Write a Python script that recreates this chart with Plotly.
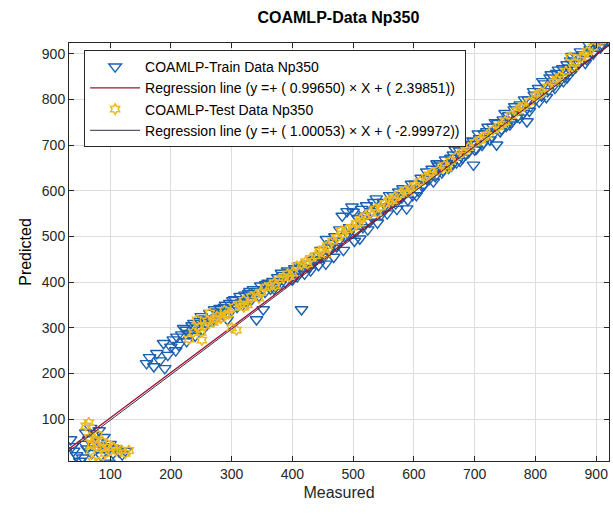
import plotly.graph_objects as go

# ---------------- data ----------------
train_measured = [
    35, 38, 40, 45, 50, 55, 58, 60, 62, 65, 68, 70, 72, 75, 78, 80, 82, 85, 88, 90, 95, 98, 100, 105, 110, 115, 120, 125,
    160, 165, 172, 177, 182, 188, 190, 195, 200, 204, 208, 213, 218, 221, 226, 230, 235, 240, 244, 248, 252, 256,
    260, 264, 268, 272, 276, 281, 285, 290, 293, 297, 300, 305, 309, 314, 318, 322, 326, 330, 333, 336,
    341, 345, 348, 352, 355, 360, 364, 368, 372, 376, 380, 384, 388, 392, 396, 400, 404, 408, 412, 415,
    417, 420, 425, 430, 434, 439, 443, 447, 452, 456, 460, 465, 470, 473, 478, 482, 486, 490, 494, 498,
    500, 504, 508, 511, 514, 518, 522, 527, 530, 534, 538, 542, 546, 550, 555, 560, 566, 570, 575, 580,
    585, 588, 593, 598, 602, 607, 612, 616, 621, 625, 630, 635, 640, 643, 648, 652, 657, 661, 665, 670,
    675, 680, 684, 690, 694, 698, 698, 703, 708, 712, 716, 720, 725, 730, 736, 738, 742, 747, 752, 756,
    760, 765, 770, 775, 780, 786, 788, 792, 797, 800, 805, 810, 815, 820, 824, 830, 835, 840, 845, 848,
    852, 852, 858, 862, 868, 872, 879, 884, 890, 895, 900, 905, 907, 912, 918, 920,
    210, 225, 238, 250, 262, 275, 288, 302, 316, 328, 342, 356, 370, 382, 398, 410, 428, 444,
    455, 462, 468, 476, 484, 492, 502, 516, 524, 532, 540, 548, 556, 564, 572, 582, 590, 596, 604, 614,
    622, 632, 638, 646, 654, 662, 668, 676, 686, 692, 700, 706, 714, 722, 728, 734, 744, 750, 758, 766,
    774, 782, 790, 798, 806, 812, 818, 826, 832, 838, 846, 854, 860, 866, 874, 882, 888, 896, 904, 910,
]
train_predicted = [
    55, 40, 30, 20, 8, 15, 45, 70, 35, 55, 80, 25, 45, 65, 35, 50, 75, 20, 40, 60, 30, 4, 45, 25, 35, 28, 22, 30,
    222, 235, 215, 244, 228, 266, 211, 240, 258, 274, 250, 262, 285, 299, 270, 288, 305, 282, 300, 314, 295, 320,
    308, 332, 315, 340, 322, 343, 330, 350, 318, 354, 338, 362, 345, 369, 350, 372, 358, 380, 362, 384,
    318, 370, 392, 340, 378, 398, 385, 402, 390, 410, 395, 415, 400, 425, 421, 405, 430, 412, 436, 340,
    432, 418, 440, 425, 448, 450, 437, 470, 455, 494, 468, 485, 500, 478, 515, 545, 500, 555, 520, 565,
    554, 510, 540, 495, 560, 545, 568, 532, 555, 575, 583, 560, 548, 575, 565, 590, 590, 572, 598, 585,
    600, 561, 605, 590, 615, 600, 628, 612, 642, 625, 648, 632, 655, 660, 645, 668, 650, 672, 679, 662,
    688, 672, 695, 685, 702, 657, 708, 692, 715, 700, 725, 730, 712, 740, 701, 748, 730, 756, 742, 765,
    750, 778, 762, 789, 770, 752, 800, 785, 818, 800, 825, 808, 835, 818, 848, 830, 858, 840, 868, 850,
    877, 848, 885, 865, 895, 880, 899, 888, 910, 900, 920, 915, 914, 935, 945, 930,
    280, 295, 310, 325, 318, 335, 345, 360, 355, 375, 380, 395, 385, 420, 412, 428, 432, 458,
    440, 475, 455, 490, 470, 505, 490, 520, 515, 540, 530, 560, 550, 575, 560, 605, 580, 615, 590, 610,
    625, 620, 660, 640, 660, 655, 690, 665, 680, 710, 690, 725, 705, 740, 720, 750, 735, 770, 745, 785,
    760, 800, 775, 810, 795, 840, 805, 855, 825, 865, 840, 870, 895, 870, 905, 880, 920, 905, 935, 920,
]

test_measured = [
    60, 65, 66, 68, 70, 72, 75, 78, 80, 82, 85, 88, 92, 95, 100, 105, 110, 118, 125, 131,
    230, 237, 243, 247, 251, 256, 260, 264, 270, 276, 282, 288, 295, 300, 304, 308, 314, 320, 326, 332,
    340, 348, 355, 363, 370, 378, 385, 392, 400, 407, 415, 422, 430, 438, 445, 450, 458, 466, 474, 482,
    490, 498, 505, 512, 520, 528, 536, 545, 552, 560, 568, 576, 585, 594, 602, 610, 620, 630, 640, 650,
    660, 670, 680, 690, 700, 710, 720, 730, 740, 750, 760, 770, 780, 790, 800, 810, 820, 830, 840, 850,
    857, 865, 875, 885, 895, 905, 915,
    250, 275, 290, 320, 345, 372, 395, 425, 455, 480, 510, 540, 565, 590, 625, 655, 685, 715, 745, 775,
    805, 835, 862, 880,
]
test_predicted = [
    85, 92, 60, 30, 45, 8, 55, 40, 65, 5, 35, 50, 25, 45, 30, 38, 30, 32, 25, 31,
    275, 290, 317, 300, 273, 305, 315, 332, 312, 325, 320, 338, 330, 300, 345, 295, 352, 360, 350, 368,
    372, 378, 388, 391, 398, 405, 410, 418, 420, 435, 438, 445, 452, 458, 468, 472, 480, 490, 498, 505,
    515, 520, 528, 538, 545, 552, 560, 565, 572, 580, 585, 592, 600, 605, 612, 620, 630, 640, 645, 655,
    665, 675, 685, 695, 705, 712, 722, 733, 742, 752, 765, 775, 785, 795, 808, 815, 828, 838, 850, 862,
    893, 880, 892, 905, 915, 928, 942,
    290, 318, 328, 345, 365, 392, 412, 440, 462, 512, 530, 552, 578, 596, 635, 650, 690, 718, 745, 782,
    812, 845, 870, 898,
]

train_slope, train_intercept = 0.99650, 2.39851
test_slope, test_intercept = 1.00053, -2.99972
line_x = [32, 921]

x_ticks = [100, 200, 300, 400, 500, 600, 700, 800, 900]
y_ticks = [100, 200, 300, 400, 500, 600, 700, 800, 900]

title_text = "COAMLP-Data Np350"
train_name = "COAMLP-Train Data Np350"
train_line_name = "Regression line (y =+ ( 0.99650) × X + ( 2.39851))"
test_name = "COAMLP-Test Data Np350"
test_line_name = "Regression line (y =+ ( 1.00053) × X + ( -2.99972))"

# ---------------- figure ----------------
fig = go.Figure()

fig.add_trace(go.Scatter(
    x=train_measured, y=train_predicted, mode="markers", name=train_name,
    marker=dict(symbol="triangle-down-open", size=11, color="#1B5FAF",
                line=dict(width=1.4, color="#1B5FAF")),
))
fig.add_trace(go.Scatter(
    x=line_x, y=[train_slope * v + train_intercept for v in line_x], mode="lines",
    name=train_line_name, line=dict(color="#A2142F", width=1.3),
))
fig.add_trace(go.Scatter(
    x=test_measured, y=test_predicted, mode="markers", name=test_name,
    marker=dict(symbol="hexagram-open", size=8, color="#EDB820",
                line=dict(width=1.5, color="#EDB820")),
))
fig.add_trace(go.Scatter(
    x=line_x, y=[test_slope * v + test_intercept for v in line_x], mode="lines",
    name=test_line_name, line=dict(color="#3A2E4E", width=1.0),
))

axis_common = dict(
    showline=True, linecolor="#262626", linewidth=1, mirror="ticks",
    ticks="inside", ticklen=5, tickcolor="#262626",
    showgrid=True, gridcolor="#DDDDDD", gridwidth=1, zeroline=False,
    tickfont=dict(family="Liberation Sans, Arial", size=14, color="#262626"),
)

fig.update_layout(
    width=613, height=515,
    margin=dict(l=69, r=4, t=43, b=54),
    paper_bgcolor="white", plot_bgcolor="white",
    title=dict(text=title_text, x=0.552, xanchor="center", y=1 - 17 / 515, yanchor="middle",
               yref="container",
               font=dict(family="Liberation Sans, Arial", size=16, color="#000000", weight="bold")),
    xaxis=dict(range=[32.4, 921], tickvals=x_ticks,
               title=dict(text="Measured", standoff=6,
                          font=dict(family="Liberation Sans, Arial", size=16, color="#262626")),
               **axis_common),
    yaxis=dict(range=[8, 924], tickvals=y_ticks,
               title=dict(text="Predicted", standoff=6,
                          font=dict(family="Liberation Sans, Arial", size=16, color="#000000")),
               **axis_common),
    legend=dict(x=0.028, y=0.983, xanchor="left", yanchor="top",
                bgcolor="white", bordercolor="#262626", borderwidth=1,
                font=dict(family="Liberation Sans, Arial", size=14, color="#000000"),
                tracegroupgap=0, itemwidth=50),
    showlegend=True,
)

fig.write_html("out.html")
